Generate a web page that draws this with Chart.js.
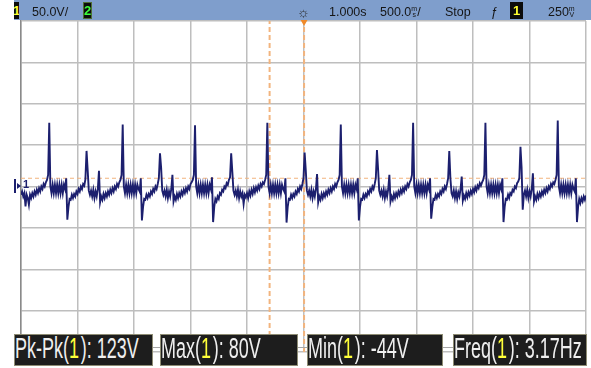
<!DOCTYPE html>
<html>
<head>
<meta charset="utf-8">
<script src="https://cdn.jsdelivr.net/npm/chart.js@4/dist/chart.umd.min.js"></script>
<style>
  html, body { margin: 0; padding: 0; background: #ffffff; }
  #scope { position: relative; width: 591px; height: 368px; overflow: hidden;
           font-family: "Liberation Sans", Arial, sans-serif; }
  #plot { position: absolute; left: 0; top: 0; }
  #bar { position: absolute; left: 14px; top: 0; width: 577px; height: 20px; background: #7f9ecc; }
  .bt { position: absolute; line-height: 20px; font-size: 12.5px; color: #161616; white-space: nowrap; top: 2px; }
  .badge { position: absolute; top: 2px; height: 17px; line-height: 17px; background: #0c0c0c;
           font-size: 13px; font-weight: bold; text-align: center; overflow: hidden; }
  .unit { display: inline-block; font-size: 7px; line-height: 6px; vertical-align: -1px; text-align: center; }
  #gnd { position: absolute; left: 14px; top: 179px; width: 16px; height: 14px; color: #1c1f6e; }
  .meas { position: absolute; top: 334px; height: 32px; background: #1d1d1d; border: 1px solid #8e8c74;
          box-sizing: border-box; overflow: hidden; }
  .meas span.t { position: absolute; left: 0; top: -3px; line-height: 32px; font-size: 29px; color: #efefef;
                 white-space: nowrap; transform: scaleX(0.62); transform-origin: 0 0; }
  .meas .ch { color: #ffff3a; margin-right: 3px; }
  #link { position: absolute; left: 14px; top: 347px; width: 573px; height: 1px; background: #a6a6a6; }
</style>
</head>
<body>
<div id="scope">
  <canvas id="plot" width="591" height="368"></canvas>
  <div id="bar"></div>
  <div class="badge" style="left:14px;width:5px;color:#ffff30;"><span style="position:relative;left:-1px;">1</span></div>
  <div class="bt" style="left:32px;">50.0V/</div>
  <div class="badge" style="left:83px;width:9px;color:#3cff3c;box-shadow:inset 0 0 0 1px #4e6e34;">2</div>
  <div class="bt" style="left:297px;font-size:14px;color:#2a2a2a;">☼</div>
  <div class="bt" style="left:329px;">1.000s</div>
  <div class="bt" style="left:380px;">500.0<span class="unit">m<br>s</span>/</div>
  <div class="bt" style="left:445px;">Stop</div>
  <div class="bt" style="left:491px;">ƒ</div>
  <div class="badge" style="left:510px;width:13px;color:#ffff30;">1</div>
  <div class="bt" style="left:548px;">250<span class="unit">m<br>V</span></div>

  <div id="gnd">
    <div style="position:absolute;left:0;top:0;width:2px;height:14px;background:#1c1f6e;"></div>
    <div style="position:absolute;left:3px;top:4px;width:0;height:0;border-top:3px solid transparent;border-bottom:3px solid transparent;border-left:4px solid #1c1f6e;"></div>
    <div style="position:absolute;left:9px;top:-1px;font-size:11px;font-weight:bold;line-height:13px;">1</div>
  </div>

  <div id="link"></div>
  <div id="measurements"></div>
</div>

<script>
// Acquisition settings
const voltsPerDiv = 50;
const msPerDiv = 500;
const sampleIntervalMs = 10;
const recordStartMs = -2500;
const triggerLevelV = 10;
const cursorTimesMs = [-300, 5];

// Channel 1 record, volts, one value every 10 ms (501 samples, one beat per line)
const ch1Volts = [
  -10, -6, -12, -8, -24, -10, -14, -22, -10, -14, -8, -12, -6, -10, -4, -8, -2, -6, 0, -3, 3, 0, 5, 8, 14,
  77, 0, -8, 2, -8, 2, -8, 2, -8, 2, -8, 2, -8, 2, -3, 10, -40, -25, -15, -16, -10, -14, -9, -12, -6, -9, -3, -6, 0, -3, 3, 1, 9, 43, 20, -5, -10, -5, -12, -4, -14, -6, -12, -3, 19, -19, -12, -16, -9, -14, -8, -12, -6, -10, -4, -8, -2, -6, 0, -3, 3, 0, 5, 8, 14,
  75, 0, -8, 2, -8, 2, -8, 2, -8, 2, -8, 2, -8, 2, -3, -6, 10, -41, -25, -15, -16, -10, -14, -9, -12, -6, -9, -3, -6, 0, -3, 3, 10, 40, 23, -5, -10, -5, -12, -4, -14, -6, -12, -3, 14, -18, -12, -16, -9, -14, -8, -12, -6, -10, -4, -8, -2, -6, 0, -3, 3, 5, 8, 14,
  74, 0, -8, 2, -8, 2, -8, 2, -8, 2, -8, 2, -8, 2, -3, 11, -43, -25, -15, -18, -12, -15, -8, -10, -4, -6, 0, -2, 4, 2, 8, 11, 40, 18, -5, -10, -5, -12, -4, -14, -6, -12, -8, -21, -10, -13, -8, -14, -6, -11, -4, -9, -2, -7, -1, -5, 1, -3, 3, 0, 5, 3, 8, 14,
  77, 0, -8, 2, -8, 2, -8, 2, -8, 2, -8, 2, -8, 2, -3, -6, 10, -43.6, -25, -15, -16, -10, -14, -9, -12, -6, -9, -3, -6, 0, -3, 3, 10, 41, 20, -5, -10, -5, -12, -4, -14, -6, -12, -3, 15, -19, -12, -16, -9, -14, -8, -12, -6, -10, -4, -8, -2, -6, 0, -3, 3, 0, 5, 8, 14,
  75, 0, -8, 2, -8, 2, -8, 2, -8, 2, -8, 2, -8, 2, -3, 10, -41, -25, -15, -16, -10, -14, -9, -12, -6, -9, -3, -6, 0, -3, 3, 10, 44, 21, -5, -10, -5, -12, -4, -14, -6, -12, -3, 14, -18, -12, -16, -9, -14, -8, -12, -6, -10, -4, -8, -2, -6, 0, -3, 3, 0, 5, 8, 14,
  77, 0, -8, 2, -8, 2, -8, 2, -8, 2, -8, 2, -8, 2, -3, 10, -39, -25, -15, -16, -10, -14, -9, -12, -6, -9, -3, -6, 0, -3, 3, 10, 43, 10, -8, -12, -5, -14, -6, -15, -7, -12, -3, 12, -17, -11, -15, -8, -13, -7, -11, -5, -9, -3, -7, -1, -5, 1, -2, 4, 1, 5, 8, 14,
  77, 0, -8, 2, -8, 2, -8, 2, -8, 2, -8, 2, -8, 2, -3, 10, -43, -25, -15, -16, -10, -14, -8, -10, -4, -6, 0, -2, 4, 6, 10, 48, 23, -28, -10, -5, -12, -4, -14, -6, -12, -3, 16, -18, -12, -16, -9, -14, -8, -12, -6, -10, -4, -8, -2, -6, 0, -3, 3, 0, 5, 3, 8, 14,
  79.6, 0, -8, 2, -8, 2, -8, 2, -8, 2, -8, 2, -8, 2, -3, -6, 10, -43, -25, -15, -20, -14, -18, -12, -16, -11
];

// Measurement readouts
const measNames = ['Pk-Pk', 'Max', 'Min', 'Freq'];
const measValues = ['123V', '80V', '-44V', '3.17Hz'];
const measLeft = [14, 160, 307, 453];
const measWidth = [139, 138, 136, 134];

const measBox = document.getElementById('measurements');
measNames.forEach((name, i) => {
  const box = document.createElement('div');
  box.className = 'meas';
  box.style.left = measLeft[i] + 'px';
  box.style.width = measWidth[i] + 'px';
  box.innerHTML = '<span class="t">' + name + '(<span class="ch">1</span>): ' + measValues[i] + '</span>';
  measBox.appendChild(box);
});

const halfSpanMs = msPerDiv * 5;
const halfSpanV = voltsPerDiv * 4;
const trace = ch1Volts.map((v, i) => ({ x: recordStartMs + i * sampleIntervalMs, y: v }));

const orange = '#f2b47e';
const gridGrey = '#bebebe';

new Chart(document.getElementById('plot'), {
  type: 'line',
  data: {
    datasets: [
      {
        data: trace,
        borderColor: '#1c1f6e',
        borderWidth: 1.9,
        borderJoinStyle: 'miter',
        pointRadius: 0,
        tension: 0,
        order: 0
      },
      {
        data: [{ x: -halfSpanMs, y: triggerLevelV }, { x: halfSpanMs, y: triggerLevelV }],
        borderColor: orange,
        borderWidth: 1.2,
        borderDash: [4, 3],
        pointRadius: 0,
        order: 2
      },
      {
        data: [{ x: cursorTimesMs[0], y: -halfSpanV }, { x: cursorTimesMs[0], y: halfSpanV }],
        borderColor: orange,
        borderWidth: 2,
        borderDash: [5, 3],
        pointRadius: 0,
        order: 2
      },
      {
        data: [{ x: cursorTimesMs[1], y: -halfSpanV }, { x: cursorTimesMs[1], y: halfSpanV }],
        borderColor: orange,
        borderWidth: 2,
        borderDash: [5, 3],
        pointRadius: 0,
        order: 2
      },
      {
        // trigger position marker at the top edge
        data: [{ x: cursorTimesMs[1], y: halfSpanV }],
        showLine: false,
        pointStyle: 'triangle',
        rotation: 180,
        pointRadius: 5,
        pointBackgroundColor: '#f08a2a',
        pointBorderWidth: 0,
        clip: false,
        order: 1
      }
    ]
  },
  options: {
    responsive: false,
    animation: false,
    events: [],
    layout: { padding: { left: 21, top: 21, right: 0, bottom: 16 } },
    plugins: { legend: { display: false }, tooltip: { enabled: false } },
    scales: {
      x: {
        type: 'linear',
        min: -halfSpanMs,
        max: halfSpanMs,
        ticks: { display: false, stepSize: msPerDiv },
        grid: { color: gridGrey, lineWidth: 1.5, drawTicks: false },
        border: { display: false }
      },
      y: {
        min: -halfSpanV,
        max: halfSpanV,
        ticks: { display: false, stepSize: voltsPerDiv },
        grid: { color: gridGrey, lineWidth: 1.5, drawTicks: false },
        border: { display: true, color: '#8a8a8a', width: 1.5 }
      }
    }
  }
});
</script>
</body>
</html>
